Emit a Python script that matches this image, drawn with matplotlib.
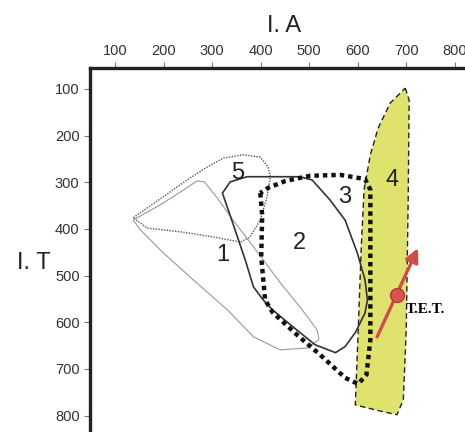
import numpy as np
import matplotlib.pyplot as plt
from matplotlib.patches import Polygon

plt.rcParams['font.family'] = ['Liberation Sans', 'DejaVu Sans']

# outlines of the regions, (I.A, I.T) pairs
region1_a = [137, 193, 234, 269, 284, 310, 343, 385, 440, 481, 516, 520, 496, 440, 385, 331, 261, 199, 152]
region1_t = [381, 348, 321, 297, 299, 333, 381, 438, 515, 567, 616, 637, 655, 659, 631, 573, 509, 451, 402]

region2_a = [321, 337, 372, 481, 506, 543, 574, 599, 615, 620, 615, 595, 574, 554, 512, 461, 424, 405, 385, 368, 352, 333]
region2_t = [323, 299, 288, 288, 295, 338, 381, 451, 509, 552, 580, 622, 652, 665, 648, 605, 573, 552, 524, 466, 417, 359]

region3_a = [399, 403, 401, 409, 424, 475, 523, 574, 601, 618, 626, 626, 626, 615, 564, 502, 451, 415]
region3_t = [323, 370, 460, 552, 578, 627, 670, 719, 732, 712, 637, 445, 316, 293, 284, 286, 297, 312]

region4_a = [698, 706, 704, 700, 694, 681, 646, 595, 601, 607, 613, 626, 642, 667]
region4_t = [98, 124, 338, 616, 766, 798, 790, 777, 616, 445, 316, 241, 184, 130]

region5_a = [137, 199, 248, 290, 323, 364, 399, 415, 420, 413, 399, 378, 358, 302, 234, 166]
region5_t = [376, 331, 295, 267, 248, 241, 246, 267, 288, 331, 381, 417, 428, 417, 406, 398]

labels = ['1', '2', '3', '4', '5']
label_a = [321, 479, 574, 671, 352]
label_t = [455, 430, 331, 295, 280]

# T.E.T. trend
tet_start = (640, 631)
tet_end = (724, 441)
tet_point = (680, 542)

ticks = [100, 200, 300, 400, 500, 600, 700, 800]

fig = plt.figure(figsize=(4.65, 4.32), dpi=100)
ax = fig.add_axes([90 / 465, -0.0162, 389 / 465, 0.8588])

def outline(a, t, **kw):
    ax.add_patch(Polygon(np.column_stack([a, t]), closed=True, **kw))

outline(region4_a, region4_t, facecolor='#dfe26c', edgecolor='#222222',
        linestyle=(0, (4, 2.5)), linewidth=1.0, zorder=1)
outline(region5_a, region5_t, fill=False, edgecolor='#555555',
        linestyle=(0, (1, 1)), linewidth=1.0, zorder=2)
outline(region1_a, region1_t, fill=False, edgecolor='#9a9a9a',
        linewidth=0.8, zorder=2)
outline(region2_a, region2_t, fill=False, edgecolor='#333333',
        linewidth=1.2, zorder=3)
outline(region3_a, region3_t, fill=False, edgecolor='#111111',
        linestyle=(0, (1, 0.9)), linewidth=3.2, zorder=4)

for lab, a, t in zip(labels, label_a, label_t):
    ax.text(a, t, lab, fontsize=17, color='#222222', ha='center', va='center', zorder=5)

ax.annotate('', xy=tet_end, xytext=tet_start,
            arrowprops=dict(arrowstyle='-|>', color='#d24b4b', lw=2.4,
                            mutation_scale=20, shrinkA=0, shrinkB=0), zorder=6)
ax.plot(*tet_point, 'o', markersize=10, color='#d9534f',
        markeredgecolor='#b03a3a', zorder=7)
ax.text(698, 573, 'T.E.T.', fontsize=11, fontweight='bold', family='Liberation Serif',
        ha='left', va='center', zorder=7)

ax.set_xlim(48, 850)
ax.set_ylim(850, 55)
ax.xaxis.tick_top()
ax.xaxis.set_label_position('top')
ax.set_xticks(ticks)
ax.set_yticks(ticks)
ax.tick_params(labelsize=10.5, labelcolor='#333333', color='#777777', length=4, width=0.8)
ax.set_xlabel('I. A', fontsize=17, color='#222222', labelpad=8)
ax.set_ylabel('I. T', fontsize=17, color='#222222', rotation=0, labelpad=22)
ax.yaxis.set_label_coords(-0.145, 0.445)

for side in ['left', 'top']:
    ax.spines[side].set_linewidth(2.4)
    ax.spines[side].set_color('#222222')
for side in ['right', 'bottom']:
    ax.spines[side].set_visible(False)

fig.savefig('out.png', dpi=100)
